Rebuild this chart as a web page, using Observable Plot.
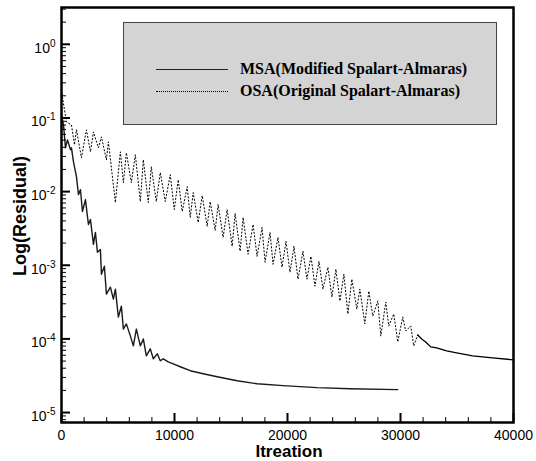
<!DOCTYPE html>
<html>
<head>
<meta charset="utf-8">
<script src="https://cdn.jsdelivr.net/npm/d3@7"></script>
<script src="https://cdn.jsdelivr.net/npm/@observablehq/plot@0.6"></script>
<style>
  html, body { margin: 0; padding: 0; background: #fff; }
  #wrap { position: relative; width: 536px; height: 461px; overflow: hidden; font-family: "Liberation Sans", Arial, sans-serif; }
  #wrap svg { position: absolute; left: 0; top: 0; }
  .ytitle { position: absolute; left: 20px; top: 216px; transform: translate(-50%, -50%) rotate(-90deg); font-weight: bold; font-size: 18px; white-space: nowrap; color: #000; }
  .xtitle { position: absolute; left: 289px; top: 444px; transform: translateX(-50%); font-weight: bold; font-size: 17px; white-space: nowrap; color: #000; line-height: 16px; height: 16px; }
  #legend { position: absolute; left: 123px; top: 22px; width: 374px; height: 103px; background: #d4d4d4; border: 1px solid #444; box-sizing: border-box; }
  .lg-line { position: absolute; left: 32px; width: 72px; height: 0; }
  .lg-text { position: absolute; left: 116px; font-family: "Liberation Serif", "Times New Roman", serif; font-weight: bold; font-size: 16px; white-space: nowrap; line-height: 16px; color: #000; }
</style>
</head>
<body>
<div id="wrap">
  <div id="chart"></div>
  <div id="legend"></div>
  <div class="ytitle" id="ytitle"></div>
  <div class="xtitle" id="xtitle"></div>
</div>
<script>
// ---- Data ----
const seriesNames = ["MSA(Modified Spalart-Almaras)", "OSA(Original Spalart-Almaras)"];
const xTitle = "Itreation";
const yTitle = "Log(Residual)";

const msaIter = [0, 177, 353, 530, 795, 883, 1060, 1325, 1501, 1678, 1854, 2119, 2384, 2561, 2826, 3002, 3179, 3444, 3532, 3797, 3974, 4327, 4592, 4768, 5033, 5298, 5475, 5740, 6093, 6358, 6623, 6976, 7241, 7506, 7859, 8124, 8477, 8742, 9007, 9448, 9890, 10508, 11391, 12539, 13775, 15541, 17307, 19603, 22605, 25519, 29758];
const msaRes = [0.110, 0.0805, 0.0393, 0.0504, 0.0370, 0.0393, 0.0254, 0.0160, 0.0091, 0.0106, 0.00537, 0.0078, 0.00358, 0.00419, 0.00192, 0.00279, 0.00150, 0.00164, 0.000755, 0.000969, 0.000406, 0.000505, 0.000347, 0.000474, 0.000198, 0.000279, 0.000136, 0.000160, 0.000110, 0.0000804, 0.000136, 0.0000804, 0.000100, 0.0000589, 0.0000733, 0.0000537, 0.0000627, 0.0000505, 0.0000537, 0.0000489, 0.0000459, 0.0000419, 0.0000370, 0.0000337, 0.0000306, 0.0000270, 0.0000246, 0.0000232, 0.0000218, 0.0000211, 0.0000205];

const osaIter = [0, 177, 442, 883, 1148, 1325, 1766, 2208, 2561, 2826, 3267, 3532, 3974, 4150, 4768, 5210, 5475, 5740, 6181, 6534, 6976, 7241, 7682, 7947, 8389, 8742, 9183, 9625, 9978, 10331, 10684, 11126, 11391, 11656, 12097, 12450, 12892, 13157, 13598, 13863, 14305, 14658, 15100, 15364, 15806, 16071, 16512, 16954, 17307, 17748, 18013, 18455, 18720, 19161, 19514, 19868, 20221, 20574, 20927, 21369, 21722, 22075, 22428, 22781, 23135, 23576, 23929, 24283, 24636, 24989, 25342, 25695, 26137, 26402, 26843, 27196, 27550, 27991, 28256, 28698, 28962, 29404, 29758, 30199, 30464, 30905, 31170, 31524];
const osaRes = [0.239, 0.155, 0.0883, 0.0805, 0.0432, 0.0689, 0.0288, 0.0689, 0.0347, 0.0647, 0.0393, 0.0554, 0.0271, 0.0474, 0.0071, 0.0347, 0.0132, 0.0337, 0.0132, 0.0316, 0.00732, 0.0271, 0.0071, 0.0218, 0.00732, 0.0181, 0.00732, 0.0170, 0.00571, 0.0145, 0.00537, 0.0117, 0.00446, 0.00969, 0.00381, 0.00883, 0.00337, 0.00732, 0.00297, 0.00667, 0.00239, 0.00571, 0.00181, 0.00505, 0.00155, 0.00446, 0.00141, 0.00358, 0.00132, 0.00326, 0.00110, 0.00279, 0.00103, 0.00239, 0.00094, 0.00211, 0.000804, 0.00181, 0.000647, 0.00155, 0.000647, 0.00132, 0.00052, 0.00113, 0.000474, 0.00094, 0.00037, 0.000883, 0.000327, 0.000755, 0.000218, 0.000647, 0.000254, 0.000474, 0.00016, 0.000446, 0.000205, 0.000327, 0.00011, 0.000316, 0.00015, 0.000218, 0.000091, 0.000198, 0.000128, 0.00015, 0.0000804, 0.000113];

const osaTailIter = [31524, 31877, 32230, 32671, 33201, 34084, 34967, 36380, 38146, 40000];
const osaTailRes = [0.000113, 0.000100, 0.0000910, 0.0000780, 0.0000755, 0.0000689, 0.0000647, 0.0000589, 0.0000553, 0.0000520];

const xMajorTicks = [0, 10000, 20000, 30000, 40000];
const xMinorTicks = [2000, 4000, 6000, 8000, 12000, 14000, 16000, 18000, 22000, 24000, 26000, 28000, 32000, 34000, 36000, 38000];
const yMajorTicks = [1e-5, 1e-4, 1e-3, 1e-2, 1e-1, 1];
const yDecadeExponents = [-6, -5, -4, -3, -2, -1, 0];
const yMinorMultipliers = [2, 3, 4, 5, 6, 7, 8, 9];

// ---- Build tables ----
const msa = msaIter.map((it, i) => ({it, r: msaRes[i]}));
const osa = osaIter.map((it, i) => ({it, r: osaRes[i]}));
const osaTail = osaTailIter.map((it, i) => ({it, r: osaTailRes[i]}));
const yDomain = [7.33e-6, 3.16];
const yMinorTicks = yDecadeExponents.flatMap(e => yMinorMultipliers.map(m => m * Math.pow(10, e)))
  .filter(v => v > yDomain[0] && v < yDomain[1]);

const W = 536, H = 461, ML = 61, MR = 23, MT = 7, MB = 39;
const PW = W - ML - MR, PH = H - MT - MB;

const chart = Plot.plot({
  width: W, height: H,
  marginLeft: ML, marginRight: MR, marginTop: MT, marginBottom: MB,
  x: {domain: [0, 40000]},
  y: {type: "log", domain: yDomain},
  style: {fontFamily: "'Liberation Sans', Arial, sans-serif", fontSize: "14px", background: "transparent", color: "#000"},
  marks: [
    Plot.line(msa, {x: "it", y: "r", stroke: "#1a1a1a", strokeWidth: 1.4}),
    Plot.line(osa, {x: "it", y: "r", stroke: "#000", strokeWidth: 1, strokeDasharray: "1.2,2.3"}),
    Plot.line(osaTail, {x: "it", y: "r", stroke: "#000", strokeWidth: 1.3}),
    Plot.tickY(yMajorTicks, {y: d => d, insetRight: PW - 9, stroke: "#000", strokeWidth: 2}),
    Plot.tickY(yMinorTicks, {y: d => d, insetRight: PW - 5, stroke: "#000", strokeWidth: 1}),
    Plot.tickX(xMajorTicks, {x: d => d, insetTop: PH - 9, stroke: "#000", strokeWidth: 2}),
    Plot.tickX(xMinorTicks, {x: d => d, insetTop: PH - 5, stroke: "#000", strokeWidth: 1}),
    Plot.axisX(xMajorTicks, {tickSize: 0, tickPadding: 8, label: null, tickFormat: d => String(d), fontSize: 14}),
    Plot.axisY(yMajorTicks, {tickSize: 0, tickPadding: 6, label: null, dy: 4, tickFormat: d => String(Math.round(Math.log10(d))), fontSize: 14}),
    Plot.frame({stroke: "#000", strokeWidth: 2.5})
  ]
});
document.getElementById("chart").appendChild(chart);

// superscript exponents on the y tick labels
chart.querySelectorAll('g[aria-label="y-axis tick label"] text').forEach(t => {
  const e = t.textContent.replace("\u2212", "-");
  t.textContent = "";
  t.appendChild(document.createTextNode("10"));
  const ts = document.createElementNS("http://www.w3.org/2000/svg", "tspan");
  ts.setAttribute("dy", "-6");
  ts.setAttribute("font-size", "10");
  ts.textContent = e;
  t.appendChild(ts);
});

document.getElementById("xtitle").textContent = xTitle;
document.getElementById("ytitle").textContent = yTitle;

// legend
const legend = document.getElementById("legend");
const styles = [{top: 46, border: "1.3px solid #222"}, {top: 68, border: "1px dotted #000"}];
seriesNames.forEach((name, i) => {
  const l = document.createElement("div");
  l.className = "lg-line";
  l.style.top = styles[i].top + "px";
  l.style.borderTop = styles[i].border;
  legend.appendChild(l);
  const t = document.createElement("div");
  t.className = "lg-text";
  t.style.top = (styles[i].top - 8) + "px";
  t.textContent = name;
  legend.appendChild(t);
});
</script>
</body>
</html>
